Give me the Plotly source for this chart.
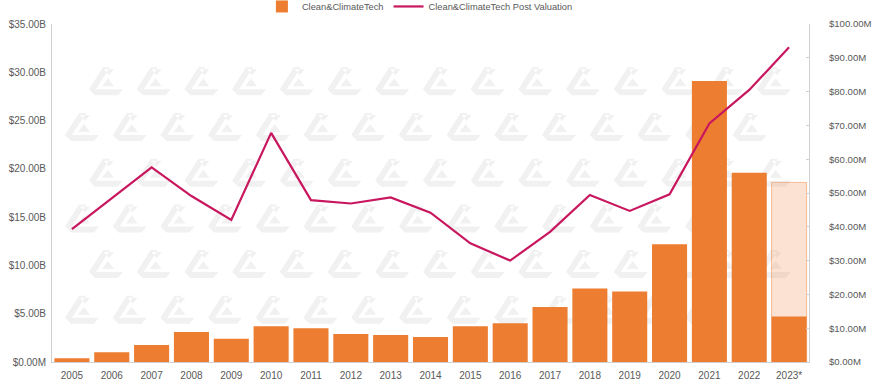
import plotly.graph_objects as go

years = ["2005", "2006", "2007", "2008", "2009", "2010", "2011", "2012", "2013", "2014",
         "2015", "2016", "2017", "2018", "2019", "2020", "2021", "2022", "2023*"]
# Deal value in $B (left axis)
deal_value_b = [0.4, 1.0, 1.75, 3.1, 2.4, 3.7, 3.5, 2.9, 2.8, 2.6,
                3.7, 4.0, 5.7, 7.6, 7.3, 12.2, 29.1, 19.6, 4.7]
# Projected 2023 full-year value in $B
projected_b = [None] * 18 + [18.6]
# Post valuation in $M (right axis)
post_val_m = [39.3, 48.4, 57.6, 49.1, 42.0, 67.8, 47.9, 46.9, 48.7, 44.2,
              35.1, 30.0, 38.5, 49.4, 44.7, 49.6, 70.6, 80.5, 93.1]

left_ticks_b = [0, 5, 10, 15, 20, 25, 30, 35]
left_tick_text = ["$0.00M"] + [f"${v:.2f}B" for v in left_ticks_b[1:]]
right_ticks_m = [0, 10, 20, 30, 40, 50, 60, 70, 80, 90, 100]
right_tick_text = [f"${v:.2f}M" for v in right_ticks_m]

ORANGE = "#ED7D31"
LINE = "#C8175E"
FONT = dict(family="Liberation Sans, Arial, sans-serif", size=10, color="#595959")
FONT_R = dict(family="Liberation Sans, Arial, sans-serif", size=9.6, color="#595959")

W, H = 872, 389
ML, MR, MT, MB = 52, 63, 24, 27
PW, PH = W - ML - MR, H - MT - MB

fig = go.Figure()
fig.add_trace(go.Bar(
    x=years, y=[v * 1e9 if v is not None else None for v in projected_b],
    marker=dict(color="rgba(237,125,49,0.22)", line=dict(color="rgba(237,125,49,0.45)", width=1)),
    showlegend=False, hoverinfo="skip", yaxis="y"))
fig.add_trace(go.Bar(
    x=years, y=[v * 1e9 for v in deal_value_b], name="Clean&ClimateTech",
    marker=dict(color=ORANGE, line=dict(width=0)), yaxis="y"))
fig.add_trace(go.Scatter(
    x=years, y=[v * 1e6 for v in post_val_m], name="Clean&ClimateTech Post Valuation",
    mode="lines", line=dict(color=LINE, width=2.2), yaxis="y2"))

# Watermark logo pattern (decorative background)
def logo_path(x0, y0):
    polys = [
        [(16, 0), (23, 0), (9, 22), (2, 22)],
        [(2, 22), (36, 22), (31, 28), (8, 28)],
        [(15, 19), (27, 19), (21, 11)],
        [(17, 2), (27, 2), (22, 8)],
    ]
    parts = []
    for poly in polys:
        pts = []
        for i, (px, py) in enumerate(poly):
            fx = (x0 + px - ML) / PW
            fy = 1 - (y0 + py - MT) / PH
            pts.append(("M" if i == 0 else "L") + f"{fx:.4f},{fy:.4f}")
        parts.append(" ".join(pts) + " Z")
    return " ".join(parts)

paths = []
row_tops = [21.6 + 45.7 * i for i in range(8)]
for r, top in enumerate(row_tops):
    start = 63 if r % 2 == 0 else 87
    x = start - 47.7 * 2
    while x < W:
        if x >= ML + 1 and x + 37 <= ML + PW - 1 and top >= MT - 2 and top + 28 <= MT + PH:
            paths.append(logo_path(x, top))
        x += 47.7
fig.add_shape(type="path", path=" ".join(paths), xref="paper", yref="paper",
              fillcolor="#F1F1F1", line=dict(width=0), layer="below")

fig.update_layout(
    width=W, height=H,
    margin=dict(l=ML, r=MR, t=MT, b=MB, autoexpand=False),
    paper_bgcolor="white", plot_bgcolor="white",
    barmode="overlay", bargap=0.12,
    font=FONT,
    showlegend=True,
    legend=dict(orientation="h", x=0.486, xanchor="center", y=1.009, yanchor="bottom",
                font=dict(size=9.3, color="#595959"), bgcolor="rgba(0,0,0,0)",
                itemwidth=30, traceorder="normal"),
    xaxis=dict(type="category", showgrid=False, showline=True, linecolor="#D0D0D0",
               linewidth=1, ticks="", tickfont=FONT, zeroline=False, automargin=False,
               ticklabelstandoff=4),
    yaxis=dict(range=[0, 35e9], tickvals=[v * 1e9 for v in left_ticks_b], ticktext=left_tick_text,
               showgrid=False, showline=True, linecolor="#D0D0D0", linewidth=1, ticks="",
               zeroline=False, tickfont=FONT, ticklabelstandoff=3, automargin=False),
    yaxis2=dict(range=[0, 100e6], tickvals=[v * 1e6 for v in right_ticks_m], ticktext=right_tick_text,
                overlaying="y", side="right", showgrid=False, showline=True, linecolor="#D0D0D0",
                linewidth=1, ticks="inside", ticklen=3, tickcolor="#D0D0D0",
                zeroline=False, tickfont=FONT_R, ticklabelstandoff=17, automargin=False),
    hovermode="x",
)

fig.write_html("out.html", post_script="document.body.style.margin='0';",
               config={"displayModeBar": False})
